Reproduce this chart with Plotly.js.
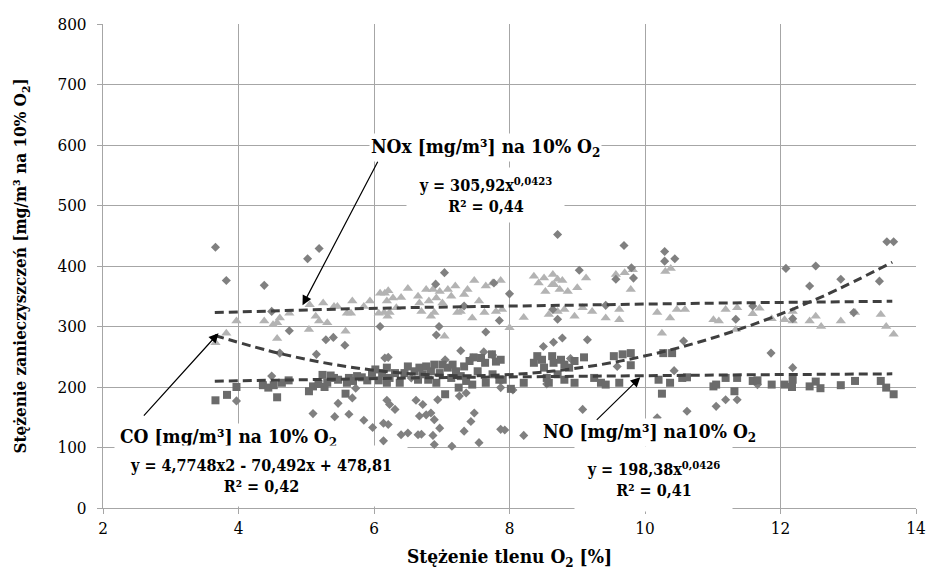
<!DOCTYPE html>
<html>
<head>
<meta charset="utf-8">
<script src="https://cdn.plot.ly/plotly-3.0.1.min.js"></script>
<style>html,body{margin:0;padding:0;background:#fff;}#chart{width:927px;height:576px;}</style>
</head>
<body>
<div id="chart"></div>
<script>
// ---- CO [mg/m3] na 10% O2 (diamonds) ----
const coX = [3.66,3.82,3.97,4.38,4.49,4.49,4.61,4.75,5.02,5.19,5.15,5.29,5.40,5.57,5.10,5.42,5.47,5.63,5.68,5.73,5.85,5.98,6.09,6.14,6.16,6.19,6.14,
  6.21,7.04,6.91,6.96,6.92,7.65,7.85,8.00,7.33,7.77,7.45,7.75,6.23,6.31,6.21,6.62,6.72,6.67,6.77,6.84,6.89,6.97,6.94,7.26,7.36,7.48,7.43,7.33,6.40,6.50,6.65,6.70,6.87,6.89,7.15,7.55,7.87,7.93,8.21,7.87,8.50,8.65,
  9.03,9.15,8.78,8.90,9.08,9.59,9.69,9.80,9.83,9.57,8.71,8.64,8.71,9.42,10.18,10.29,10.29,10.44,10.57,10.43,10.62,11.05,11.19,11.36,11.34,11.59,11.86,12.08,12.18,12.18,12.43,12.52,12.89,13.08,13.46,13.57,13.67,11.66,
  7.05,7.28,7.62,8.05,8.55,6.55];
const coY = [431,376,177,368,325,218,256,293,412,429,254,278,282,269,156,151,173,155,182,198,145,133,300,140,248,178,111,
  249,389,370,300,286,291,310,354,334,372,248,253,171,163,138,178,171,152,154,157,146,132,179,185,190,157,143,127,121,124,121,122,120,105,102,108,130,129,120,199,267,274,
  393,278,281,247,163,234,434,397,380,378,452,328,312,335,149,424,408,412,276,227,160,168,179,179,312,334,256,396,232,313,367,400,378,323,375,440,440,204,
  245,260,258,195,205,215];

// ---- NOx [mg/m3] na 10% O2 (triangles) ----
const noxX = [3.66,3.82,3.97,4.38,4.51,4.57,4.61,4.57,4.75,5.05,5.04,5.14,5.19,5.25,5.31,5.41,5.46,5.58,5.60,5.66,5.68,5.85,5.94,6.07,6.09,6.16,6.20,6.19,6.15,
  6.21,6.28,6.23,6.33,6.40,6.50,6.65,6.67,6.70,6.77,6.81,6.84,6.87,6.89,6.92,6.97,7.01,7.04,7.09,7.14,7.20,7.23,7.28,7.33,7.38,7.45,7.48,7.55,7.63,7.65,7.75,7.80,7.87,7.89,8.00,8.21,8.36,8.43,8.51,8.53,8.58,8.63,
  8.64,8.71,8.78,8.66,8.74,8.86,9.00,9.13,8.71,8.81,8.96,9.08,9.22,9.42,9.62,9.62,9.57,9.70,9.82,9.79,10.18,10.25,10.30,10.38,10.37,10.47,10.59,11.01,
  11.19,11.36,11.59,11.69,11.87,12.06,12.18,12.18,12.43,12.52,12.60,12.89,13.10,13.48,13.56,13.67,11.09,11.34];
const noxY = [273,289,309,309,303,306,314,280,322,336,295,317,309,339,306,333,333,292,322,322,342,333,342,322,355,355,317,342,323,
  359,347,323,331,348,363,350,339,325,361,342,317,361,323,347,358,339,284,361,350,367,323,325,353,361,314,376,342,323,367,372,325,376,328,298,315,383,372,380,358,320,369,
  386,378,376,369,361,358,364,380,325,328,317,331,325,314,328,311,386,389,394,361,323,289,391,396,314,328,328,311,
  328,331,321,330,313,311,325,309,309,317,300,309,323,320,300,287,309,295];

// ---- NO [mg/m3] na 10% O2 (squares) ----
const noX = [3.66,3.83,3.97,4.36,4.44,4.52,4.57,4.64,4.74,5.04,5.10,5.18,5.24,5.27,5.31,5.36,5.41,5.47,5.58,5.60,5.63,5.69,5.75,5.82,5.90,5.97,6.02,6.07,6.12,6.19,6.19,
  6.23,6.31,6.38,6.45,6.50,6.60,6.65,6.67,6.72,6.77,6.80,6.84,6.89,6.92,6.97,7.01,7.05,7.09,7.14,7.16,7.21,7.25,7.28,7.33,7.36,7.41,7.45,7.47,7.53,7.58,7.64,7.65,7.74,7.75,7.80,7.85,7.87,7.90,8.02,8.21,8.36,8.41,8.48,8.51,8.55,8.58,8.63,8.65,
  8.76,8.81,8.88,8.71,8.81,8.96,8.96,9.10,9.25,9.35,9.42,9.54,9.62,9.67,9.79,9.79,10.20,10.27,10.25,10.37,10.40,10.55,10.62,11.01,
  11.19,11.36,11.32,11.59,11.66,11.87,12.06,12.18,12.17,12.43,12.52,12.59,12.89,13.10,13.48,13.56,13.67,11.05];
const noY = [178,187,200,203,199,203,183,207,211,193,201,205,220,200,207,219,215,212,189,207,215,210,218,216,211,221,229,211,223,232,207,
  215,223,207,223,234,226,212,232,221,234,212,226,237,207,223,237,188,232,215,237,226,199,218,234,210,243,204,249,226,248,240,207,254,221,242,212,245,212,197,207,240,251,245,232,215,207,251,240,
  245,237,232,221,212,207,243,249,215,207,204,251,207,254,256,236,212,256,189,207,256,215,216,201,
  215,215,193,210,211,204,204,212,200,201,209,198,203,210,210,199,188,204];

// ---- trend lines (values from the equations printed on the chart) ----
const trendX = [3.65,4.65,5.65,6.65,7.65,8.65,9.65,10.65,11.65,12.65,13.65];
const coTrendY = [285.1,254.3,233.0,221.2,219.0,226.3,243.2,269.6,305.6,351.2,406.2];
const noxTrendY = [323.1,326.5,329.2,331.5,333.4,335.2,336.7,338.1,339.4,340.6,341.7];
const noTrendY = [209.6,211.8,213.6,215.1,216.3,217.5,218.5,219.4,220.3,221.0,221.7];

const xTicks = [2,4,6,8,10,12,14];
const yTicks = [0,100,200,300,400,500,600,700,800];

const serif = 'DejaVu Serif Condensed, DejaVu Serif';
const trendLine = {color:'#3f3f3f', width:3, dash:'9px,5px'};

const data = [
  {x:noxX, y:noxY, type:'scatter', mode:'markers', name:'NOx',
   marker:{symbol:'triangle-up', size:9, color:'#b3b3b3'}},
  {x:coX, y:coY, type:'scatter', mode:'markers', name:'CO',
   marker:{symbol:'diamond', size:7, color:'#808080'}},
  {x:noX, y:noY, type:'scatter', mode:'markers', name:'NO',
   marker:{symbol:'square', size:8, color:'#6b6b6b'}},
  {x:trendX, y:noxTrendY, type:'scatter', mode:'lines', line:trendLine, name:'NOx trend'},
  {x:trendX, y:noTrendY, type:'scatter', mode:'lines', line:trendLine, name:'NO trend'},
  {x:trendX, y:coTrendY, type:'scatter', mode:'lines', line:Object.assign({shape:'spline'}, trendLine), name:'CO trend'}
];

const lblFont = {family:serif, size:19, color:'#000'};
const eqFont = {family:serif, size:16, color:'#000'};

const annotations = [
  {xref:'x', yref:'y', x:7.65, y:596, text:'<b>NOx [mg/m³] na 10% O<sub>2</sub></b>', showarrow:false,
   font:lblFont, bgcolor:'#ffffff', borderpad:1},
  {xref:'x', yref:'y', x:7.64, y:517, text:'<b>y = 305,92x<sup>0,0423</sup><br>R² = 0,44</b>', showarrow:false,
   font:eqFont, bgcolor:'#ffffff', width:155, height:52},
  {xref:'x', yref:'y', x:3.85, y:117, text:'<b>CO [mg/m³] na 10% O<sub>2</sub></b>', showarrow:false,
   font:lblFont, bgcolor:'#ffffff', borderpad:1},
  {xref:'x', yref:'y', x:4.33, y:53, text:'<b>y = 4,7748x2 - 70,492x + 478,81<br>R² = 0,42</b>', showarrow:false,
   font:eqFont, bgcolor:'#ffffff', width:290, height:58},
  {xref:'x', yref:'y', x:10.06, y:124, text:'<b>NO [mg/m³] na10% O<sub>2</sub></b>', showarrow:false,
   font:lblFont, bgcolor:'#ffffff', borderpad:1},
  {xref:'x', yref:'y', x:10.12, y:48, text:'<b>y = 198,38x<sup>0,0426</sup><br>R² = 0,41</b>', showarrow:false,
   font:eqFont, bgcolor:'#ffffff', width:155, height:62},
  // arrows
  {xref:'x', yref:'y', x:4.945, y:335, text:'', showarrow:true, axref:'pixel', ayref:'pixel', ax:76, ay:-145,
   arrowhead:2, arrowsize:1.6, arrowwidth:1.2, arrowcolor:'#000', standoff:0},
  {xref:'x', yref:'y', x:3.705, y:289, text:'', showarrow:true, axref:'pixel', ayref:'pixel', ax:-76, ay:84,
   arrowhead:2, arrowsize:1.6, arrowwidth:1.2, arrowcolor:'#000', standoff:0},
  {xref:'x', yref:'y', x:9.93, y:216, text:'', showarrow:true, axref:'pixel', ayref:'pixel', ax:-45, ay:44,
   arrowhead:2, arrowsize:1.6, arrowwidth:1.2, arrowcolor:'#000', standoff:0}
];

const layout = {
  width:927, height:576,
  margin:{l:103, r:11, t:24, b:68},
  paper_bgcolor:'#ffffff', plot_bgcolor:'#ffffff',
  showlegend:false,
  font:{family:serif, color:'#000'},
  xaxis:{range:[2,14], tickvals:xTicks, ticktext:xTicks.map(String),
    showgrid:true, gridcolor:'#a6a6a6', gridwidth:1,
    showline:true, linecolor:'#a6a6a6', linewidth:1,
    ticks:'outside', ticklen:5, tickcolor:'#a6a6a6',
    zeroline:false, tickfont:{family:serif, size:17, color:'#000'},
    title:{text:'<b>Stężenie tlenu O<sub>2</sub> [%]</b>', font:{family:serif, size:19, color:'#000'}, standoff:12},
    automargin:false},
  yaxis:{range:[0,800], tickvals:yTicks, ticktext:yTicks.map(String),
    showgrid:true, gridcolor:'#a6a6a6', gridwidth:1,
    showline:true, linecolor:'#a6a6a6', linewidth:1,
    ticks:'outside', ticklen:5, tickcolor:'#a6a6a6', ticklabelstandoff:7,
    zeroline:false, tickfont:{family:serif, size:17, color:'#000'},
    title:{text:'<b>Stężenie zanieczyszczeń [mg/m³ na 10% O<sub>2</sub>]</b>', font:{family:serif, size:17, color:'#000'}, standoff:26},
    automargin:false},
  annotations:annotations
};

Plotly.newPlot('chart', data, layout, {staticPlot:true, displayModeBar:false});
</script>
</body>
</html>
